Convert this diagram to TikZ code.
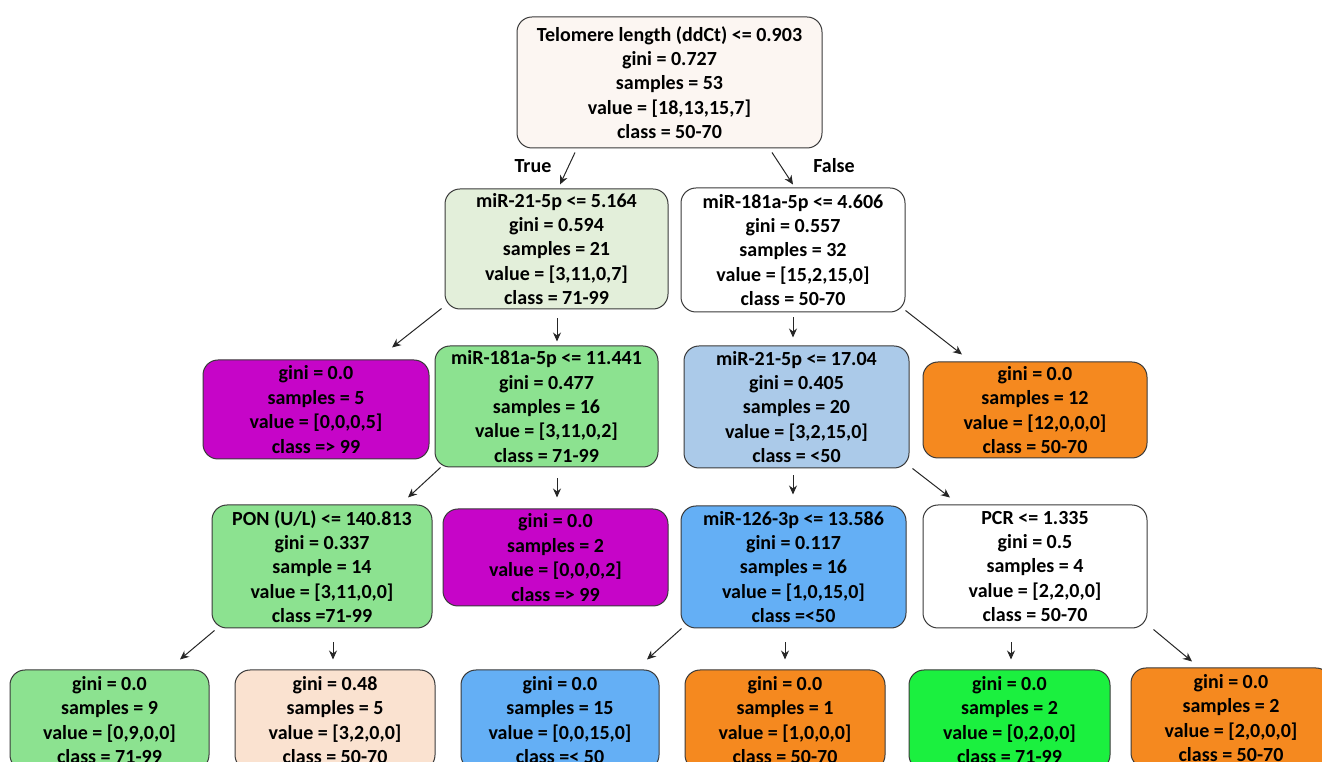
\documentclass[tikz,border=0pt]{standalone}
\usepackage{fontspec}
\setmainfont{Carlito}
\usetikzlibrary{arrows.meta,calc}
\newlength\px
\setlength\px{0.75pt}
\definecolor{bordc}{HTML}{3A3A3A}
\definecolor{rootc}{HTML}{FCF6F2}
\definecolor{lgreen}{HTML}{E3EFDA}
\definecolor{purp}{HTML}{C605C8}
\definecolor{mgreen}{HTML}{8CE290}
\definecolor{lblue}{HTML}{ABCAE9}
\definecolor{orng}{HTML}{F5891F}
\definecolor{mblue}{HTML}{64AFF5}
\definecolor{peach}{HTML}{FAE2D0}
\definecolor{bgreen}{HTML}{1BF03F}
\tikzset{
  tbox/.style={draw=bordc, line width=0.75pt, rounded corners=11.25pt, inner sep=0pt,
    align=center, font=\fontsize{15}{18.3}\selectfont\bfseries, text=black},
  arr/.style={draw=black!85, line width=0.75pt, -{Stealth[length=6.75pt,width=6pt]}},
  lab/.style={font=\fontsize{15}{18}\selectfont\bfseries}
}
\begin{document}
\begin{tikzpicture}[x=0.75pt,y=-0.75pt]
\useasboundingbox (0,0) rectangle (1322,762);
% level 0
\node[tbox, fill=rootc, minimum width=228.75pt, minimum height=98.25pt] (root) at (669.5,82.5)
 {Telomere length (ddCt) <= 0.903\\gini = 0.727\\samples = 53\\value = [18,13,15,7]\\class = 50-70};
% level 1
\node[tbox, fill=lgreen, minimum width=167.25pt, minimum height=90pt] (n1) at (556.5,249)
 {miR-21-5p <= 5.164\\gini = 0.594\\samples = 21\\value = [3,11,0,7]\\class = 71-99};
\node[tbox, fill=white, minimum width=168pt, minimum height=93pt] (n2) at (793,250)
 {miR-181a-5p <= 4.606\\gini = 0.557\\samples = 32\\value = [15,2,15,0]\\class = 50-70};
% level 2
\node[tbox, fill=purp, minimum width=169.5pt, minimum height=74.25pt] (n3) at (316,409.5)
 {gini = 0.0\\samples = 5\\value = [0,0,0,5]\\class => 99};
\node[tbox, fill=mgreen, minimum width=167.25pt, minimum height=90.75pt] (n4) at (546.5,406.5)
 {miR-181a-5p <= 11.441\\gini = 0.477\\samples = 16\\value = [3,11,0,2]\\class = 71-99};
\node[tbox, fill=lblue, minimum width=168.75pt, minimum height=91.5pt] (n5) at (796.5,407)
 {miR-21-5p <= 17.04\\gini = 0.405\\samples = 20\\value = [3,2,15,0]\\class = <50};
\node[tbox, fill=orng, minimum width=168pt, minimum height=72pt] (n6) at (1035,410)
 {gini = 0.0\\samples = 12\\value = [12,0,0,0]\\class = 50-70};
% level 3
\node[tbox, fill=mgreen, minimum width=165pt, minimum height=92.25pt] (n7) at (322,566.5)
 {PON (U/L) <= 140.813\\gini = 0.337\\sample = 14\\value = [3,11,0,0]\\class =71-99};
\node[tbox, fill=purp, minimum width=168.75pt, minimum height=72.75pt] (n8) at (555.5,557.5)
 {gini = 0.0\\samples = 2\\value = [0,0,0,2]\\class => 99};
\node[tbox, fill=mblue, minimum width=168.75pt, minimum height=91.5pt] (n9) at (793.5,567)
 {miR-126-3p <= 13.586\\gini = 0.117\\samples = 16\\value = [1,0,15,0]\\class =<50};
\node[tbox, fill=white, minimum width=168pt, minimum height=92.25pt] (n10) at (1035,566.5)
 {PCR <= 1.335\\gini = 0.5\\samples = 4\\value = [2,2,0,0]\\class = 50-70};
% level 4
\node[tbox, fill=mgreen, minimum width=149.25pt, minimum height=75pt] (n11) at (109.5,720)
 {gini = 0.0\\samples = 9\\value = [0,9,0,0]\\class = 71-99};
\node[tbox, fill=peach, minimum width=150pt, minimum height=75pt] (n12) at (335,720)
 {gini = 0.48\\samples = 5\\value = [3,2,0,0]\\class = 50-70};
\node[tbox, fill=mblue, minimum width=148.5pt, minimum height=75pt] (n13) at (560,720)
 {gini = 0.0\\samples = 15\\value = [0,0,15,0]\\class =< 50};
\node[tbox, fill=orng, minimum width=150pt, minimum height=75pt] (n14) at (785,720)
 {gini = 0.0\\samples = 1\\value = [1,0,0,0]\\class = 50-70};
\node[tbox, fill=bgreen, minimum width=150.75pt, minimum height=75pt] (n15) at (1009.5,720)
 {gini = 0.0\\samples = 2\\value = [0,2,0,0]\\class = 71-99};
\node[tbox, fill=orng, minimum width=150pt, minimum height=75pt] (n16) at (1231,718)
 {gini = 0.0\\samples = 2\\value = [2,0,0,0]\\class = 50-70};
% labels
\node[lab] (ltrue) at (533,166) {True};
\node[lab] (lfalse) at (834,166) {False};
% connectors
\draw[arr] ($(root.south)+(-94.5,4)$) -- ($(n1.north)+(3.5,-4)$);
\draw[arr] ($(root.south)+(102.5,4)$) -- ($(n2.north)+(0,-3)$);
\draw[arr] ($(n1.south west)+(-3,-1)$) -- ($(n3.north)+(76,-12)$);
\draw[arr] ($(n1.south)+(0.5,9)$) -- ($(n4.north)+(10.5,-4)$);
\draw[arr] ($(n2.south)+(0,5)$) -- ($(n5.north)+(-3.5,-8)$);
\draw[arr] ($(n2.south east)+(0,-2)$) -- ($(n6.north)+(-73,-7)$);
\draw[arr] ($(n4.south west)+(6,0)$) -- ($(n7.north)+(86,-7)$);
\draw[arr] ($(n4.south)+(10.5,11)$) -- ($(n8.north)+(1.5,-11)$);
\draw[arr] ($(n5.south)+(-3.5,7)$) -- ($(n9.north)+(-0.5,-11)$);
\draw[arr] ($(n5.south east)+(3,0)$) -- ($(n10.north)+(-85,-7)$);
\draw[arr] ($(n7.south west)+(3,2)$) -- ($(n11.north)+(70.5,-10)$);
\draw[arr] ($(n7.south)+(11,14)$) -- ($(n12.north)+(-2,-10)$);
\draw[arr] ($(n9.south west)+(1,0)$) -- ($(n13.north)+(87,-10)$);
\draw[arr] ($(n9.south)+(-8.5,14)$) -- ($(n14.north)+(0,-10)$);
\draw[arr] ($(n10.south)+(-24,14)$) -- ($(n15.north)+(1.5,-10)$);
\draw[arr] ($(n10.south east)+(6,1)$) -- ($(n16.north)+(-39,-6)$);
\end{tikzpicture}
\end{document}
